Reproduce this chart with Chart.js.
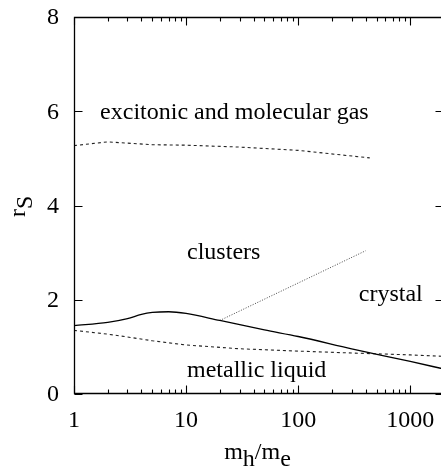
<!DOCTYPE html>
<html>
<head>
<meta charset="utf-8">
<script src="https://cdn.jsdelivr.net/npm/chart.js@4"></script>
<style>
  html, body { margin: 0; padding: 0; overflow: hidden; background: #fff; }
  #wrap { width: 446px; height: 470px; }
</style>
</head>
<body>
<div id="wrap"><canvas id="c" width="446" height="470"></canvas></div>
<script>
// Phase boundaries of the electron-hole system: r_s versus mass ratio m_h/m_e

// crystal / liquid-cluster melting line (solid)
const meltMass = [1, 2, 3, 4, 5, 7, 10, 20, 50, 100, 300, 1000, 2000];
const meltRs   = [1.45, 1.52, 1.60, 1.69, 1.73, 1.745, 1.71, 1.56, 1.36, 1.22, 0.96, 0.69, 0.53];

// metallic liquid boundary (dashed, lower)
const liquidMass = [1, 2, 3, 5, 10, 30, 100, 300, 1000, 2000];
const liquidRs   = [1.35, 1.27, 1.21, 1.13, 1.04, 0.96, 0.91, 0.87, 0.83, 0.80];

// excitonic / molecular gas boundary (dashed, upper)
const gasMass = [1, 2, 5, 10, 30, 100, 435];
const gasRs   = [5.27, 5.35, 5.29, 5.28, 5.24, 5.17, 5.01];

// clusters / crystal boundary (dotted)
const clusterMass = [20, 400];
const clusterRs   = [1.56, 3.04];

// axis ticks
const xMajorTicks = [1, 10, 100, 1000];
const xTickLabels = ['1', '10', '100', '1000'];
const yTicks = [0, 2, 4, 6, 8];
const yTickLabels = ['0', '2', '4', '6', '8'];

// region labels (left edge of text, baseline)
const regionLabels = [
  { text: 'excitonic and molecular gas', x: 1.71,  y: 5.83 },
  { text: 'clusters',                    x: 10.2,  y: 2.86 },
  { text: 'crystal',                     x: 347,   y: 1.98 },
  { text: 'metallic liquid',             x: 10.2,  y: 0.36 }
];

const FONT = '24px "Liberation Serif", "Times New Roman", serif';

function pts(xs, ys) { return xs.map((x, i) => ({ x: x, y: ys[i] })); }

const framePlugin = {
  id: 'frame',
  afterDraw(chart) {
    const ctx = chart.ctx;
    const xs = chart.scales.x, ys = chart.scales.y;
    const a = chart.chartArea;
    const L = Math.round(a.left) + 0.5, R = Math.round(a.right) - 0.5;
    const T = Math.round(a.top) + 0.5, B = Math.round(a.bottom) - 0.5;
    ctx.save();
    ctx.strokeStyle = '#000';
    ctx.lineWidth = 1.3;
    ctx.beginPath();
    ctx.moveTo(L, T); ctx.lineTo(R, T); ctx.lineTo(R, B); ctx.lineTo(L, B); ctx.closePath();
    ctx.stroke();

    // x ticks (major + minor), drawn inward on bottom and top
    ctx.lineWidth = 1.1;
    ctx.beginPath();
    for (let d = 1; d <= 1000; d *= 10) {
      for (let k = 1; k <= 9; k++) {
        const v = d * k;
        if (v > 2000) break;
        const px = Math.round(xs.getPixelForValue(v)) + 0.5;
        const len = k === 1 ? 8 : 4;
        ctx.moveTo(px, B); ctx.lineTo(px, B - len);
        ctx.moveTo(px, T); ctx.lineTo(px, T + len);
      }
    }
    // y ticks on left and right
    yTicks.forEach(v => {
      const py = Math.round(ys.getPixelForValue(v)) + 0.5;
      ctx.moveTo(L, py); ctx.lineTo(L + 8, py);
      ctx.moveTo(R, py); ctx.lineTo(R - 8, py);
    });
    ctx.stroke();

    ctx.fillStyle = '#000';
    ctx.font = FONT;
    // y tick labels
    ctx.textAlign = 'right';
    ctx.textBaseline = 'middle';
    yTicks.forEach((v, i) => {
      ctx.fillText(yTickLabels[i], a.left - 15, ys.getPixelForValue(v) + 1);
    });
    // x tick labels
    ctx.textAlign = 'center';
    ctx.textBaseline = 'alphabetic';
    xMajorTicks.forEach((v, i) => {
      ctx.fillText(xTickLabels[i], xs.getPixelForValue(v), a.bottom + 33);
    });

    // region labels
    ctx.textAlign = 'left';
    regionLabels.forEach(r => {
      ctx.fillText(r.text, xs.getPixelForValue(r.x), ys.getPixelForValue(r.y));
    });

    // x axis title: m_h / m_e
    const parts = [['m', 0], ['h', 7], ['/', 0], ['m', 0], ['e', 7]];
    const total = parts.reduce((s, p) => s + ctx.measureText(p[0]).width, 0);
    let cx = 257.5 - total / 2;
    const base = a.bottom + 65;
    parts.forEach(p => {
      ctx.fillText(p[0], cx, base + p[1]);
      cx += ctx.measureText(p[0]).width;
    });

    // y axis title: r_S (rotated)
    ctx.translate(25, 217);
    ctx.rotate(-Math.PI / 2);
    ctx.fillText('r', 0, 0);
    ctx.fillText('S', ctx.measureText('r').width, 7);
    ctx.restore();
  }
};

new Chart(document.getElementById('c'), {
  type: 'line',
  data: {
    datasets: [
      {
        label: 'melting',
        data: pts(meltMass, meltRs),
        borderColor: '#000', borderWidth: 1.3,
        cubicInterpolationMode: 'monotone',
        pointRadius: 0, fill: false
      },
      {
        label: 'liquid',
        data: pts(liquidMass, liquidRs),
        borderColor: '#222', borderWidth: 1.1, borderDash: [3, 3],
        tension: 0, pointRadius: 0, fill: false
      },
      {
        label: 'gas',
        data: pts(gasMass, gasRs),
        borderColor: '#222', borderWidth: 1.1, borderDash: [3, 3],
        tension: 0, pointRadius: 0, fill: false
      },
      {
        label: 'clusters',
        data: pts(clusterMass, clusterRs),
        borderColor: '#333', borderWidth: 0.9, borderDash: [1, 1.6],
        tension: 0, pointRadius: 0, fill: false
      }
    ]
  },
  options: {
    responsive: false,
    animation: false,
    devicePixelRatio: 1,
    layout: { padding: { left: 74, right: 2, top: 17, bottom: 76 } },
    plugins: { legend: { display: false }, tooltip: { enabled: false } },
    scales: {
      x: { type: 'logarithmic', min: 1, max: 2000, display: false },
      y: { type: 'linear', min: 0, max: 8, display: false }
    }
  },
  plugins: [framePlugin]
});
</script>
</body>
</html>
